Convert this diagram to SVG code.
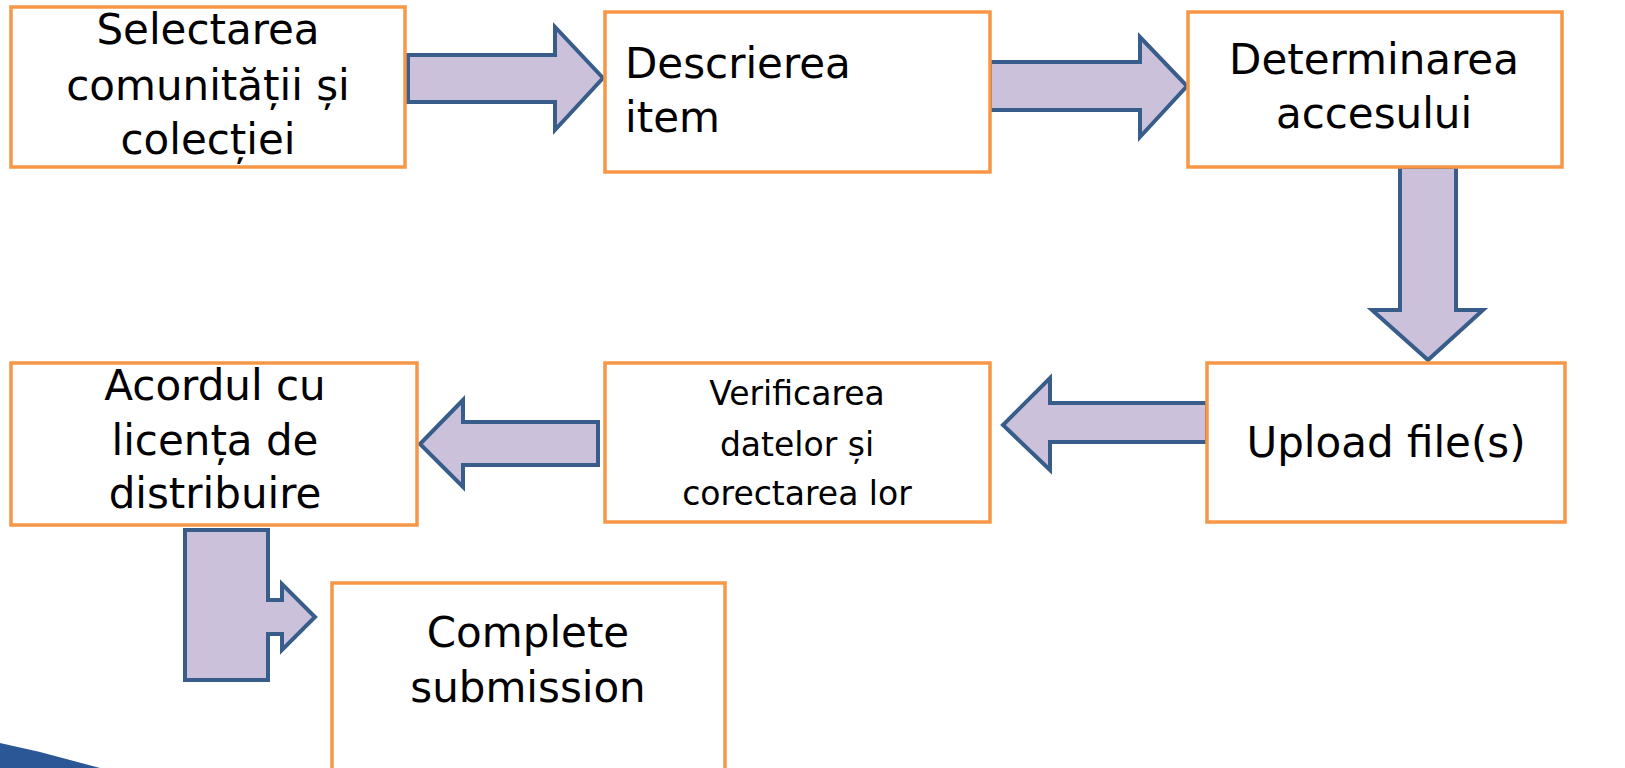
<svg xmlns="http://www.w3.org/2000/svg" width="1625" height="768" viewBox="0 0 1625 768">
<style>
.box{fill:#fff;stroke:#f79646;stroke-width:3.5}
.arr{fill:#ccc1da;stroke:#385d8a;stroke-width:4;stroke-linejoin:miter}
.t{font-family:"DejaVu Sans","Verdana",sans-serif;font-size:42px;fill:#000;text-anchor:middle}
.s{font-size:33px}
.l{text-anchor:start}
</style>
<rect width="1625" height="768" fill="#fff"/>
<path d="M0,743 L40,752 L100,768 L0,768 Z" fill="#2b5797"/>
<g id="connectors">
<path class="arr" d="M408,55 H555 V27 L603,78 L555,130 V102 H408 Z"/>
<path class="arr" d="M990,62 H1140 V37 L1187,86 L1140,137 V110 H990 Z"/>
<path class="arr" d="M1400,167 H1456 V310 H1483 L1428,360 L1372,310 H1400 Z"/>
<path class="arr" d="M1207,403 H1050 V378 L1003,425 L1050,470 V442 H1207 Z"/>
<path class="arr" d="M598,422 H463 V400 L420,444 L463,487 V465 H598 Z"/>
<path class="arr" d="M185,530 H268 V600 H282 V584 L315,617 L282,650 V634 H268 V680 H185 Z"/>
</g>
<g id="n1"><rect class="box" x="11" y="7" width="394" height="160"/>
<text class="t" x="208" y="44">Selectarea</text><text class="t" x="208" y="100">comunității și</text><text class="t" x="208" y="154">colecției</text></g>
<g id="n2"><rect class="box" x="605" y="12" width="385" height="160"/>
<text class="t l" x="625" y="78">Descrierea</text><text class="t l" x="625" y="132">item</text></g>
<g id="n3"><rect class="box" x="1188" y="12" width="374" height="155"/>
<text class="t" x="1374" y="74">Determinarea</text><text class="t" x="1374" y="128">accesului</text></g>
<g id="n4"><rect class="box" x="1207" y="363" width="358" height="159"/>
<text class="t" x="1386" y="457">Upload file(s)</text></g>
<g id="n5"><rect class="box" x="605" y="363" width="385" height="159"/>
<text class="t s" x="797" y="405">Verificarea</text><text class="t s" x="797" y="456">datelor și</text><text class="t s" x="797" y="505">corectarea lor</text></g>
<g id="n6"><rect class="box" x="11" y="363" width="406" height="162"/>
<text class="t" x="215" y="400">Acordul cu</text><text class="t" x="215" y="455">licența de</text><text class="t" x="215" y="508">distribuire</text></g>
<g id="n7"><rect class="box" x="332" y="583" width="393" height="195"/>
<text class="t" x="528" y="647">Complete</text><text class="t" x="528" y="702">submission</text></g>
</svg>
